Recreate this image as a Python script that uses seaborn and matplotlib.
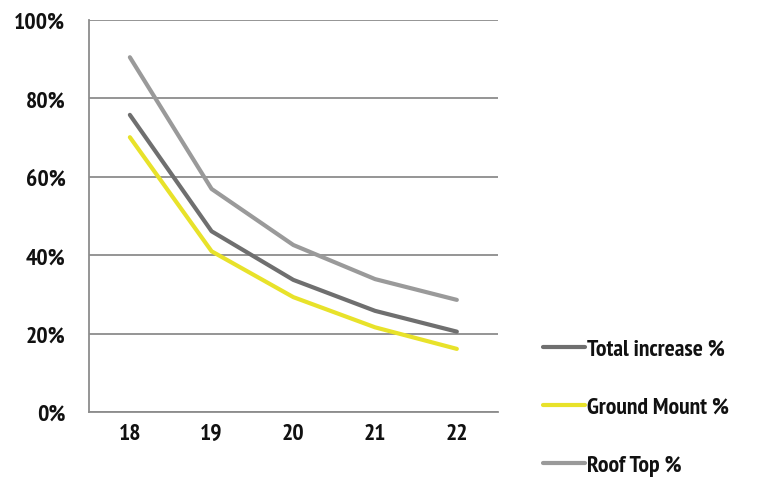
import matplotlib
matplotlib.use("Agg")
import matplotlib.pyplot as plt
import seaborn as sns
import pandas as pd
from matplotlib.ticker import FixedLocator, FuncFormatter

years = [18, 19, 20, 21, 22]
total_increase = [75.8, 46.1, 33.7, 25.8, 20.5]
ground_mount = [70.1, 41.0, 29.3, 21.6, 16.1]
roof_top = [90.5, 56.9, 42.6, 33.9, 28.6]
series_names = ["Total increase %", "Ground Mount %", "Roof Top %"]
series_colors = ["#6f6f6f", "#e8e22a", "#9a9a9a"]

df = pd.DataFrame({
    "year": years * 3,
    "value": total_increase + ground_mount + roof_top,
    "series": [series_names[0]] * 5 + [series_names[1]] * 5 + [series_names[2]] * 5,
})

sns.set_theme(style="white")
plt.rcParams["font.family"] = ["PT Sans Narrow", "DejaVu Sans"]
plt.rcParams["font.weight"] = "bold"
text_color = "#111111"
font_size = 17

fig = plt.figure(figsize=(7.67, 4.85), dpi=100)
ax = fig.add_axes([89 / 767, 1 - 413 / 485, (497.7 - 89) / 767, (413 - 21) / 485])

sns.lineplot(data=df, x="year", y="value", hue="series", hue_order=series_names,
             palette=dict(zip(series_names, series_colors)), linewidth=3.0,
             ax=ax, legend=False)

grid_color = "#8c8c8c"
ax.set_xlim(17.5, 22.5)
ax.set_ylim(0, 100)
ax.set_yticks([0, 20, 40, 60, 80, 100])
ax.yaxis.set_major_formatter(FuncFormatter(lambda v, _: f"{int(v)}%"))
ax.grid(axis="y", color=grid_color, linewidth=1.3)
ax.set_xticks(years)
ax.xaxis.set_minor_locator(FixedLocator([17.5, 18.5, 19.5, 20.5, 21.5, 22.5]))
ax.tick_params(axis="x", which="major", length=0, pad=8, labelsize=font_size, labelcolor=text_color)
ax.tick_params(axis="x", which="minor", length=7, width=1.3, color=grid_color, direction="out")
ax.tick_params(axis="y", which="major", length=6, width=1.3, color=grid_color, direction="out",
               pad=11, labelsize=font_size, labelcolor=text_color)
for lab in ax.get_xticklabels() + ax.get_yticklabels():
    lab.set_fontweight("bold")
ax.set_xlabel("")
ax.set_ylabel("")
for side in ["top", "right"]:
    ax.spines[side].set_visible(False)
for side in ["left", "bottom"]:
    ax.spines[side].set_color(grid_color)
    ax.spines[side].set_linewidth(1.3)

handles = [plt.Line2D([], [], color=c, linewidth=3.0) for c in series_colors]
leg = fig.legend(handles, series_names, loc="upper left", bbox_to_anchor=(522 / 767, 1 - 318 / 485),
                 frameon=False, handlelength=1.75, handletextpad=0.12, labelspacing=1.55,
                 prop={"size": font_size, "weight": "bold"})
for t in leg.get_texts():
    t.set_color(text_color)

fig.savefig("out.png", dpi=100, facecolor="white")
